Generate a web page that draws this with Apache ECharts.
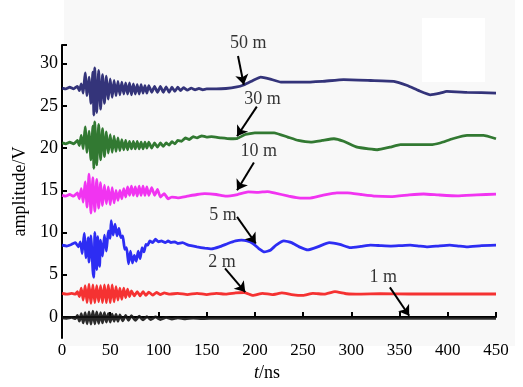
<!DOCTYPE html>
<html>
<head>
<meta charset="utf-8">
<script src="https://cdn.jsdelivr.net/npm/echarts@6/dist/echarts.min.js"></script>
<style>
  html, body { margin: 0; padding: 0; background: #fff; }
  #chart { width: 523px; height: 387px; }
</style>
</head>
<body>
<div id="chart"></div>
<script>
// readings taken off the figure: [t (ns), amplitude (V)]
const sig1m = [[0,-0.1],[5,-0.15],[10,-0.05],[14,-0.2],[16,0.2],[18,-0.5],[20,0.4],[22,-0.7],[24,0.5],[26,-0.8],[28,0.6],[30,-0.85],[32,0.7],[34,-0.8],[36,0.6],[38,-0.75],[40,0.5],[42,-0.7],[44,0.5],[46,-0.6],[48,0.4],[50,-0.6],[52,0.35],[54,-0.5],[56,0.3],[58,-0.5],[60,0.25],[63,-0.45],[66,0.2],[69,-0.4],[72,0.15],[76,-0.4],[80,0.1],[84,-0.35],[88,0.05],[92,-0.3],[97,0.0],[102,-0.3],[108,-0.05],[114,-0.25],[120,-0.1],[128,-0.22],[136,-0.12],[145,-0.2],[160,-0.15],[200,-0.17],[300,-0.17],[450,-0.17]]

const sig2m = [[0,2.8],[5,2.7],[10,2.8],[14,2.7],[16,3.0],[18,2.4],[20,3.4],[22,2.0],[24,3.7],[26,1.7],[28,3.9],[30,1.6],[32,3.8],[34,1.7],[36,3.7],[38,1.8],[40,3.7],[42,1.7],[44,3.8],[46,1.7],[48,3.8],[50,1.7],[52,3.8],[54,1.8],[56,3.6],[58,2.0],[60,3.4],[62,2.1],[64,3.4],[66,2.3],[68,3.3],[70,2.4],[72,3.1],[75,2.5],[78,3.0],[81,2.5],[84,3.0],[87,2.55],[90,2.95],[94,2.6],[98,2.9],[102,2.65],[106,2.85],[112,2.7],[120,2.8],[130,2.65],[140,2.8],[150,2.65],[160,2.8],[170,2.7],[180,2.85],[189,2.9],[198,2.55],[208,2.8],[218,2.65],[228,2.85],[238,2.65],[250,2.55],[260,2.8],[272,2.7],[283,3.0],[295,2.75],[310,2.7],[330,2.75],[360,2.72],[400,2.72],[450,2.72]]

const sig5m = [[0,8.5],[5,8.4],[10,8.6],[14,8.8],[17,8.3],[19,8.9],[21,7.5],[23,9.9],[25,7.0],[27,9.4],[28,6.5],[30,9.6],[32,5.5],[33,4.7],[34,10.0],[36,5.6],[37,9.5],[39,6.0],[40,9.1],[42,7.2],[44,9.7],[46,7.8],[48,10.2],[50,9.3],[51,11.4],[53,9.7],[55,11.0],[57,9.6],[59,10.5],[61,9.4],[63,9.6],[65,8.0],[67,8.2],[69,6.3],[71,7.8],[73,6.4],[75,7.3],[77,6.6],[79,7.8],[81,6.9],[83,8.2],[85,7.7],[87,8.6],[89,8.5],[91,9.0],[94,8.8],[97,9.2],[100,8.9],[103,9.0],[107,8.8],[110,9.0],[113,8.8],[117,8.9],[120,8.7],[125,8.8],[131,8.5],[140,8.3],[148,8.15],[155,8.06],[163,8.3],[172,8.7],[180,9.0],[186,9.1],[192,9.0],[198,8.7],[204,8.1],[210,7.7],[216,7.9],[222,8.5],[230,9.0],[238,8.8],[246,8.3],[255,7.95],[265,8.3],[277,8.8],[288,8.6],[299,8.2],[310,8.35],[320,8.5],[330,8.45],[341,8.4],[351,8.45],[361,8.5],[370,8.4],[379,8.3],[390,8.4],[402,8.5],[411,8.4],[420,8.3],[435,8.45],[450,8.5]]

const sig10m = [[0,14.4],[4,14.3],[8,14.5],[12,14.3],[16,14.7],[18,14.0],[20,15.2],[22,13.6],[24,16.0],[26,13.0],[28,16.9],[30,12.3],[32,16.5],[34,12.5],[36,16.3],[38,12.9],[40,15.9],[42,13.2],[44,15.6],[46,13.4],[48,15.4],[50,13.3],[52,15.3],[54,13.5],[56,15.0],[58,13.8],[60,15.0],[62,14.0],[64,15.2],[66,14.2],[68,15.4],[70,14.4],[72,15.5],[74,14.4],[76,15.4],[78,14.3],[80,15.5],[82,14.4],[84,15.5],[86,14.4],[88,15.4],[90,14.4],[93,15.3],[96,14.4],[99,15.1],[102,14.2],[106,14.6],[110,14.0],[114,14.2],[120,14.1],[130,14.3],[140,14.5],[148,14.6],[160,14.5],[170,14.3],[182,14.5],[193,14.8],[203,14.75],[213,14.85],[220,14.7],[235,14.3],[245,14.1],[256,14.06],[270,14.4],[285,14.7],[296,14.7],[310,14.5],[325,14.3],[341,14.25],[360,14.45],[375,14.56],[390,14.45],[410,14.33],[430,14.45],[450,14.55]]

const sig30m = [[0,20.6],[4,20.5],[8,20.7],[12,20.5],[16,20.9],[18,20.3],[20,21.5],[22,19.9],[24,22.5],[26,19.5],[28,22.0],[30,18.6],[32,22.6],[33,17.6],[34,23.1],[36,18.0],[38,22.8],[40,18.6],[42,22.3],[44,19.0],[46,21.9],[48,19.4],[50,21.6],[52,19.5],[54,21.4],[56,19.6],[58,21.2],[60,19.7],[62,21.0],[64,19.8],[66,20.9],[68,19.8],[70,20.8],[72,19.9],[74,20.8],[76,19.9],[78,20.8],[80,19.9],[82,20.7],[84,19.9],[86,20.7],[88,20.0],[90,20.7],[93,20.0],[96,20.6],[99,20.1],[102,20.6],[105,20.2],[108,20.6],[111,20.35],[114,20.75],[117,20.5],[120,20.9],[124,20.8],[128,21.2],[132,21.0],[136,21.35],[140,21.2],[145,21.45],[150,21.3],[155,21.35],[165,21.2],[175,21.1],[182,21.15],[190,21.6],[200,21.8],[220,21.8],[234,21.3],[245,20.9],[258,20.7],[270,20.9],[282,21.1],[292,20.8],[306,20.1],[318,19.9],[327,19.8],[340,20.1],[351,20.4],[370,20.4],[382,20.4],[392,20.6],[405,21.1],[420,21.5],[437,21.5],[450,21.1]]

const sig50m = [[0,27.1],[4,27.0],[8,27.2],[12,27.0],[16,27.3],[18,26.8],[20,27.6],[22,26.5],[24,28.9],[26,26.2],[28,28.4],[30,25.3],[32,29.0],[33,23.9],[34,29.5],[36,24.2],[38,29.2],[40,24.6],[42,28.7],[44,25.3],[46,28.5],[48,25.8],[50,28.2],[52,26.0],[54,28.0],[56,26.2],[58,27.9],[60,26.3],[62,27.8],[64,26.4],[66,27.7],[68,26.4],[70,27.7],[72,26.3],[74,27.6],[76,26.4],[78,27.5],[80,26.4],[82,27.5],[84,26.5],[86,27.4],[88,26.5],[90,27.4],[93,26.6],[96,27.3],[99,26.6],[102,27.3],[105,26.6],[108,27.25],[111,26.6],[114,27.2],[117,26.7],[120,27.2],[123,26.8],[126,27.15],[130,26.85],[134,27.1],[138,26.9],[142,27.05],[146,26.9],[150,27.0],[160,27.0],[170,27.05],[180,27.2],[189,27.5],[198,28.0],[206,28.4],[215,28.2],[227,27.8],[248,27.8],[270,27.9],[292,28.1],[320,28.0],[344,27.9],[358,27.4],[370,26.8],[382,26.3],[392,26.5],[399,26.7],[420,26.6],[450,26.5]]

const xTicks = [0, 50, 100, 150, 200, 250, 300, 350, 400, 450]
const yTicks = [0, 5, 10, 15, 20, 25, 30]

// annotations: label spot, arrow tail, arrow head (data coords)
const annoNames = ['50 m', '30 m', '10 m', '5 m', '2 m', '1 m']
const annoLabelAt = [[193, 32.4], [208, 25.8], [204, 19.6], [167, 12.1], [166, 6.45], [333, 4.7]]
const arrowFrom = [[182.5, 30.9], [202, 24.9], [199, 18.3], [181.5, 11.85], [169, 5.75], [340, 3.5]]
const arrowTo = [[188.5, 27.5], [181.5, 21.4], [181.5, 15.0], [201, 8.7], [190, 2.95], [360, 0.15]]

const serif = '"Liberation Serif", "DejaVu Serif", serif'

const chart = echarts.init(document.getElementById('chart'))

function sig(name, data, color) {
  return {
    name,
    type: 'line',
    data,
    showSymbol: false,
    symbol: 'none',
    smooth: 0.12,
    lineStyle: { width: 2.8, color, opacity: 0.9 },
    z: 3,
  }
}

chart.setOption({
  backgroundColor: '#ffffff',
  animation: false,
  graphic: [
    { type: 'rect', shape: { x: 64, y: 0, width: 451, height: 346 }, style: { fill: '#f8f8f8' }, z: 0, silent: true },
    { type: 'rect', shape: { x: 422, y: 18, width: 63, height: 64 }, style: { fill: '#ffffff' }, z: 0, silent: true },
  ],
  grid: { left: 62, right: 27, top: 45, bottom: 41 },
  xAxis: {
    type: 'value',
    min: 0,
    max: 450,
    interval: 50,
    name: '{i|t}/ns',
    nameLocation: 'middle',
    nameGap: 25,
    nameTextStyle: {
      fontFamily: serif, fontSize: 18, color: '#000', padding: [0, 24, 0, 0],
      rich: { i: { fontFamily: serif, fontSize: 18, fontStyle: 'italic', color: '#000' } },
    },
    axisLine: { lineStyle: { color: '#000', width: 2 } },
    axisTick: { inside: true, length: 5, lineStyle: { color: '#000', width: 2 }, customValues: xTicks.slice(1) },
    axisLabel: { fontFamily: serif, fontSize: 17, color: '#000', margin: 4, customValues: xTicks },
    splitLine: { show: false },
  },
  yAxis: {
    type: 'value',
    min: -2.5,
    max: 32.2,
    name: 'amplitude/V',
    nameLocation: 'middle',
    nameGap: 28,
    nameTextStyle: { fontFamily: serif, fontSize: 18, color: '#000' },
    axisLine: { show: true, lineStyle: { color: '#000', width: 2 } },
    axisTick: { inside: true, length: 5, lineStyle: { color: '#000', width: 2 }, customValues: yTicks.concat([32.2]) },
    axisLabel: { fontFamily: serif, fontSize: 18, color: '#000', margin: 4, customValues: yTicks },
    splitLine: { show: false },
  },
  series: [
    sig('1 m', sig1m, '#141414'),
    sig('2 m', sig2m, '#f41c1c'),
    sig('5 m', sig5m, '#1616f2'),
    sig('10 m', sig10m, '#f01ef0'),
    sig('30 m', sig30m, '#1c6a1c'),
    sig('50 m', sig50m, '#1e1e6c'),
    {
      type: 'lines',
      coordinateSystem: 'cartesian2d',
      clip: false,
      symbol: ['none', 'arrow'],
      symbolSize: 10,
      lineStyle: { color: '#000', width: 2, opacity: 1 },
      data: arrowFrom.map((p, i) => ({ coords: [p, arrowTo[i]] })),
      z: 5,
    },
    {
      type: 'scatter',
      clip: false,
      symbolSize: 0,
      data: annoNames.map((n, i) => ({ name: n, value: annoLabelAt[i] })),
      label: {
        show: true,
        position: 'inside',
        formatter: p => p.name,
        fontFamily: serif,
        fontSize: 18,
        color: '#000',
      },
      z: 6,
    },
  ],
})
</script>
</body>
</html>
